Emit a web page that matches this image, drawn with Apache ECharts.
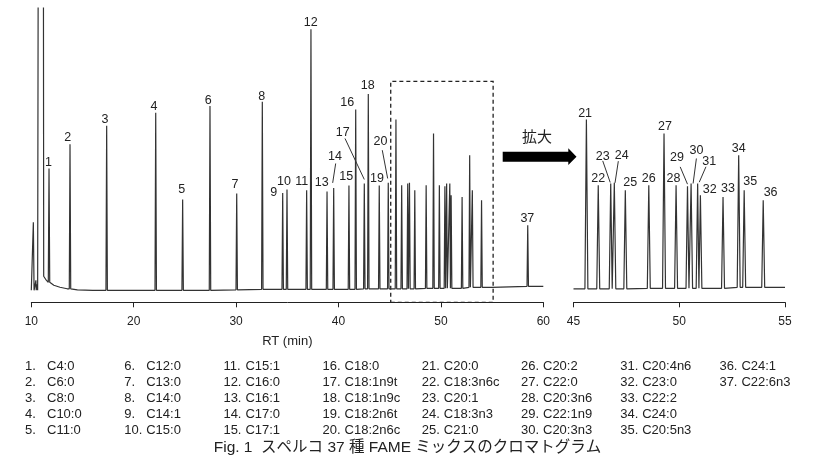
<!DOCTYPE html>
<html>
<head>
<meta charset="utf-8">
<script src="https://cdn.jsdelivr.net/npm/echarts@6/dist/echarts.min.js"></script>
<style>
html,body{margin:0;padding:0;background:#fff;}
#chart{width:831px;height:461px;}
</style>
</head>
<body>
<div id="chart"></div>
<script>
// ---- data ----
const peakRT = [11.73, 13.78, 17.36, 22.15, 24.78, 27.45, 30.06, 32.56, 34.55, 34.97,
                36.89, 37.31, 38.88, 39.53, 41.02, 41.68, 42.52, 42.91, 43.98, 44.86,
                45.61, 46.17, 46.76, 46.93, 47.45, 48.56, 49.28, 49.85, 50.39, 50.56,
                50.87, 51.00, 52.07, 52.81, 53.07, 53.97, 58.48];
const peakHeight = [133.7, 158, 176.3, 189.3, 102.7, 196, 108.7, 200.3, 109.3, 112.7,
                    112, 272.7, 110.7, 114.3, 116.7, 192.7, 118.7, 208, 116.7, 119.3,
                    182.7, 117, 118.7, 119.3, 112, 117, 168.7, 117, 116, 118.7,
                    118.7, 107, 105.3, 147, 112, 102, 77];
const compounds = ["C4:0","C6:0","C8:0","C10:0","C11:0","C12:0","C13:0","C14:0","C14:1","C15:0",
                   "C15:1","C16:0","C16:1","C17:0","C17:1","C18:0","C18:1n9t","C18:1n9c","C18:2n6t","C18:2n6c",
                   "C20:0","C18:3n6c","C20:1","C18:3n3","C21:0","C20:2","C22:0","C20:3n6","C22:1n9","C20:3n3",
                   "C20:4n6","C23:0","C22:2","C24:0","C20:5n3","C24:1","C22:6n3"];
// baseline readings (incl. solvent tail)
const baseRT    = [10.0, 10.6, 11.22, 11.4, 11.7, 12.2, 12.8, 13.5, 14.5, 16, 20, 25, 30, 35, 40, 45, 50, 55, 60];
const baseLevel = [12,   12,   26,    23,   20,   17,   15,   13.5, 12.5, 12, 12, 12, 12.5, 13, 13, 13.5, 14, 15, 16];
// solvent peak (goes off scale)
const solventRT    = [10.66, 10.70, 11.17, 11.21];
const solventLevel = [12, 500, 500, 26];
// small unlabelled peaks before the solvent
const minorRT     = [10.2, 10.45, 10.55];
const minorHeight = [80, 22, 18];
// axis ticks
const mainRange  = [10, 60, 10];
const insetRange = [45, 55, 5];
const captionText = "Fig. 1  スペルコ 37 種 FAME ミックスのクロマトグラム";

// ---- styling (label offsets relative to peak top, px) ----
const labelOffset = {
  1:[-0.5,-6], 2:[-2.3,-6.7], 3:[-1.7,-6], 4:[-1.7,-6], 5:[-1,-10], 6:[-1.7,-6], 7:[-1.7,-9], 8:[-0.6,-5.5],
  9:[-9,0], 10:[-3,-8.3], 11:[-5,-9], 12:[-0.3,-7], 13:[-5.3,-9.3], 14:[1.3,-31], 15:[-2.7,-9.3],
  16:[-8.4,-6.6], 17:[-21.6,-50.6], 18:[-0.6,-8.7], 19:[-2.3,-6.8], 20:[-7.8,-41.4], 37:[-0.4,-6.7],
  21:[-1.3,-6], 22:[0,-6.7], 23:[-8,-27.3], 24:[7.4,-27.7], 25:[5,-7.3], 26:[0,-6.7], 27:[1,-7.3],
  28:[-2.7,-6.7], 29:[-10.6,-28.7], 30:[5.3,-32.6], 31:[11.6,-22.3], 32:[9.3,-5.7], 33:[5,-8.4],
  34:[0,-6.7], 35:[6,-8.3], 36:[7.4,-7.3]
};
const leaders = {
  14:[2,-24.4,-1,-5], 17:[-19.3,-45,0,-4], 20:[-6,-32.7,-0.6,-4.4],
  23:[-8,-22.6,-0.5,-1], 24:[4,-21.7,0.7,0], 29:[-7.3,-19.3,0,-2], 30:[5.3,-25,2,0], 31:[8.3,-16.7,1.6,-1.3]
};
const FONT = "'Liberation Sans', Arial, sans-serif";
const TXT = '#222';

function nearestBase(rt) {
  let best = 0;
  for (let k = 1; k < baseRT.length; k++) if (Math.abs(baseRT[k] - rt) < Math.abs(baseRT[best] - rt)) best = k;
  return baseLevel[best];
}
function buildTrace(lo, hi) {
  const hw = 0.07;
  const pRT = peakRT.concat(minorRT), pH = peakHeight.concat(minorHeight);
  const pts = [];
  baseRT.forEach((rt, k) => {
    if (rt < lo || rt > hi) return;
    if (pRT.some(p => Math.abs(p - rt) <= hw)) return;
    pts.push([rt, baseLevel[k]]);
  });
  pRT.forEach((rt, k) => {
    if (rt < lo || rt > hi) return;
    const b = nearestBase(rt);
    pts.push([rt - hw, b], [rt, pH[k]], [rt + hw, b]);
  });
  if (lo <= solventRT[0]) solventRT.forEach((rt, k) => pts.push([rt, solventLevel[k]]));
  pts.sort((a, b) => a[0] - b[0]);
  return pts;
}
function labelData(lo, hi) {
  const out = [];
  peakRT.forEach((rt, i) => { if (rt >= lo && rt <= hi) out.push([rt, peakHeight[i], i + 1]); });
  return out;
}
function renderLabel(params, api) {
  const p = api.coord([api.value(0), api.value(1)]);
  const id = api.value(2);
  const o = labelOffset[id] || [-1, -7];
  const ch = [{
    type: 'text',
    style: { text: String(id), x: p[0] + o[0], y: p[1] + o[1], align: 'center', verticalAlign: 'middle',
             font: "12.5px " + FONT, fill: TXT }
  }];
  const l = leaders[id];
  if (l) ch.push({ type: 'line', shape: { x1: p[0] + l[0], y1: p[1] + l[1], x2: p[0] + l[2], y2: p[1] + l[3] },
                   style: { stroke: '#333', lineWidth: 1 } });
  return { type: 'group', children: ch };
}

function xAxisCfg(range, gi, name) {
  return {
    type: 'value', gridIndex: gi, min: range[0], max: range[1], interval: range[2],
    axisLine: { lineStyle: { color: '#222', width: 1 } },
    axisTick: { length: 5, lineStyle: { color: '#222' } },
    axisLabel: { color: TXT, fontSize: 12, fontFamily: FONT, margin: 13 },
    splitLine: { show: false },
    name: name, nameLocation: 'middle', nameGap: 33,
    nameTextStyle: { color: TXT, fontSize: 13, fontFamily: FONT }
  };
}
function yAxisCfg(gi) {
  return { type: 'value', gridIndex: gi, min: 0, max: 294, show: false, splitLine: { show: false } };
}

const graphics = [];
// arrow
graphics.push({ type: 'polygon', shape: { points: [[502.7,151.7],[568.3,151.7],[568.3,148.3],[576.5,156.7],[568.3,165],[568.3,161.7],[502.7,161.7]] },
  style: { fill: '#000' } });
graphics.push({ type: 'text', x: 537, y: 136, style: { text: '拡大', font: "15px 'Noto Sans CJK JP', sans-serif", fill: TXT, align: 'center', verticalAlign: 'middle' } });
// compound table
compounds.forEach((c, i) => {
  const col = Math.floor(i / 5), row = i % 5;
  const x = 25 + 99.2 * col, y = 366 + 16.2 * row;
  graphics.push({ type: 'text', x: x, y: y, style: { text: (i + 1) + '.', font: "13px " + FONT, fill: TXT, verticalAlign: 'middle' } });
  graphics.push({ type: 'text', x: x + 22, y: y, style: { text: c, font: "13px " + FONT, fill: TXT, verticalAlign: 'middle' } });
});
graphics.push({ type: 'text', x: 407.5, y: 448, style: { text: captionText, font: "15.5px 'Liberation Sans', 'Noto Sans CJK JP', sans-serif", fill: TXT, align: 'center', verticalAlign: 'middle' } });

const chart = echarts.init(document.getElementById('chart'), null, { renderer: 'canvas' });
chart.setOption({
  animation: false,
  backgroundColor: '#fff',
  grid: [
    { left: 31.3, top: 8, width: 512, height: 294.3 },
    { left: 573.5, top: 8, width: 211.5, height: 294.3 }
  ],
  xAxis: [xAxisCfg(mainRange, 0, 'RT (min)'), xAxisCfg(insetRange, 1, '')],
  yAxis: [yAxisCfg(0), yAxisCfg(1)],
  series: [
    { type: 'line', xAxisIndex: 0, yAxisIndex: 0, data: buildTrace(mainRange[0], mainRange[1]),
      showSymbol: false, lineStyle: { color: '#333', width: 1.2 }, clip: true,
      markArea: { silent: true,
        itemStyle: { color: 'rgba(0,0,0,0)', borderColor: '#222', borderWidth: 1.3, borderType: [4, 3] },
        data: [[{ xAxis: insetRange[0] + 0.1, yAxis: 0 }, { xAxis: insetRange[1] + 0.1, yAxis: 220.6 }]] } },
    { type: 'line', xAxisIndex: 1, yAxisIndex: 1, data: buildTrace(insetRange[0], insetRange[1]),
      showSymbol: false, lineStyle: { color: '#333', width: 1.2 }, clip: true },
    { type: 'custom', xAxisIndex: 0, yAxisIndex: 0, clip: false, z: 5,
      data: labelData(mainRange[0], 45).concat(labelData(55.5, mainRange[1])), renderItem: renderLabel },
    { type: 'custom', xAxisIndex: 1, yAxisIndex: 1, clip: false, z: 5,
      data: labelData(insetRange[0], insetRange[1]), renderItem: renderLabel }
  ],
  graphic: graphics
});
</script>
</body>
</html>
